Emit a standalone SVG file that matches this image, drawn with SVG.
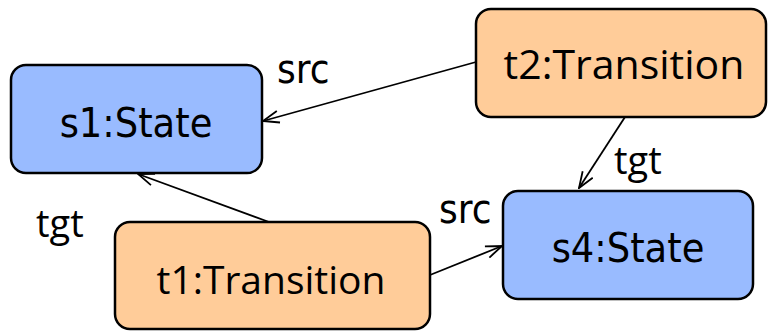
<svg xmlns="http://www.w3.org/2000/svg" width="768" height="331" viewBox="0 0 768 331">
  <style>
    .state { fill: #99bbff; stroke: #000; stroke-width: 2.5; }
    .trans { fill: #ffcc99; stroke: #000; stroke-width: 2.5; }
    .tahoma { font-family: "DejaVu Sans Condensed", "DejaVu Sans", sans-serif; font-stretch: condensed; fill: #000; }
    .calibri { font-family: "Open Sans", "Liberation Sans", sans-serif; fill: #000; }
    .edge { fill: none; stroke: #000; stroke-width: 1.8; marker-end: url(#open); }
  </style>
  <defs>
    <marker id="open" viewBox="0 0 18 14" refX="17" refY="7" markerWidth="18" markerHeight="14" orient="auto" markerUnits="userSpaceOnUse">
      <path d="M1,1 L17,7 L1,13" fill="none" stroke="#000" stroke-width="1.8"/>
    </marker>
  </defs>

  <g id="edges">
    <path class="edge" d="M476,62 L263,121"/>
    <path class="edge" d="M625,117 L579,188"/>
    <path class="edge" d="M269,222 L138,174"/>
    <path class="edge" d="M430,275 L502,246"/>
    <text class="tahoma" x="277" y="83" font-size="40">src</text>
    <text class="calibri" x="614" y="174" font-size="38">tgt</text>
    <text class="calibri" x="36" y="237" font-size="38">tgt</text>
    <text class="tahoma" x="439" y="223" font-size="40">src</text>
  </g>

  <g id="s1">
    <rect class="state" x="11" y="65" width="251" height="108" rx="15"/>
    <text class="tahoma" x="136" y="137" font-size="41" text-anchor="middle">s1:State</text>
  </g>

  <g id="t2">
    <rect class="trans" x="476" y="9" width="290" height="108" rx="15"/>
    <text class="calibri" x="624" y="79" font-size="41" text-anchor="middle">t2:Transition</text>
  </g>

  <g id="s4">
    <rect class="state" x="503" y="191" width="250" height="108" rx="15"/>
    <text class="tahoma" x="628" y="262" font-size="41" text-anchor="middle">s4:State</text>
  </g>

  <g id="t1">
    <rect class="trans" x="115" y="222" width="315" height="107" rx="15"/>
    <text class="calibri" x="271" y="294" font-size="39" text-anchor="middle">t1:Transition</text>
  </g>
</svg>
